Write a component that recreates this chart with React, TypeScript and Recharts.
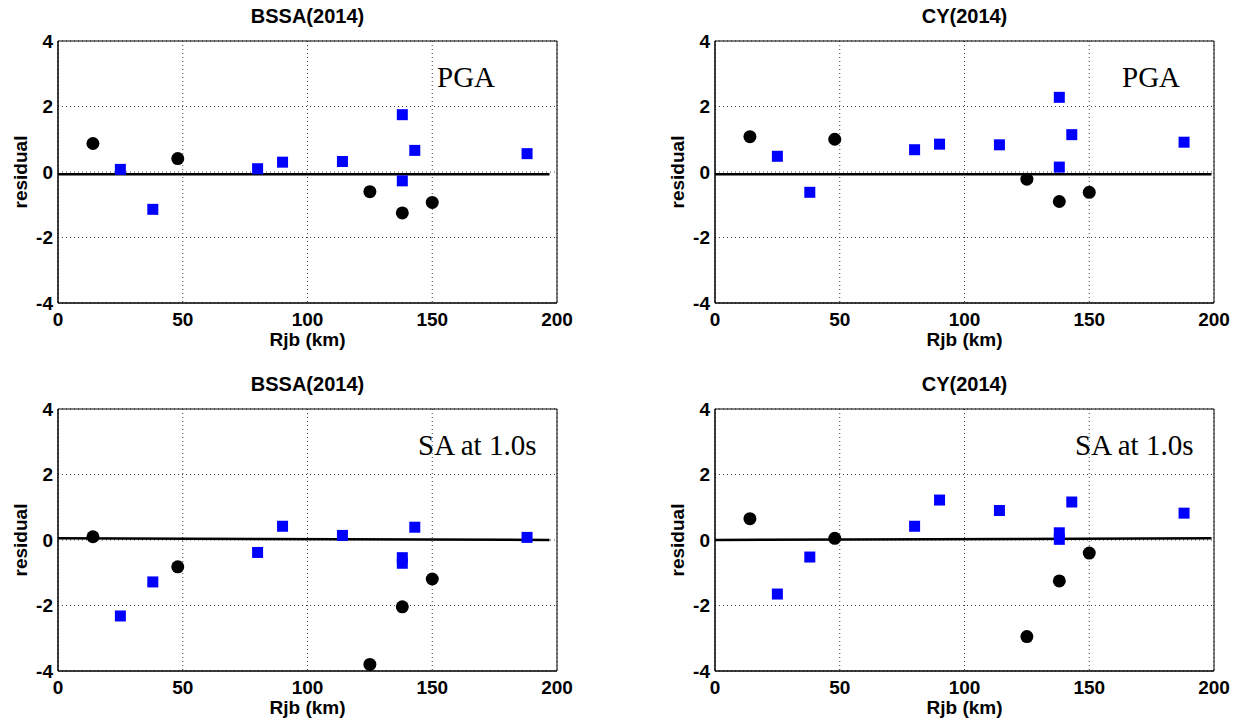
import type { FC } from "react";
import {
  ScatterChart,
  Scatter,
  XAxis,
  YAxis,
  CartesianGrid,
  ReferenceArea,
  ReferenceLine,
} from "recharts";

// distances (km) shared by every panel
const eventRjb = [14, 48, 125, 138, 150];
const stationRjb = [25, 38, 80, 90, 114, 138, 138, 143, 188];

// residuals
const bssaPgaBlack = [0.87, 0.41, -0.6, -1.25, -0.93];
const bssaPgaBlue = [0.08, -1.14, 0.1, 0.3, 0.32, 1.75, -0.27, 0.66, 0.56];
const cyPgaBlack = [1.08, 1.0, -0.22, -0.9, -0.62];
const cyPgaBlue = [0.48, -0.62, 0.68, 0.85, 0.83, 2.28, 0.15, 1.14, 0.91];
const bssaSaBlack = [0.1, -0.82, -3.8, -2.04, -1.19];
const bssaSaBlue = [-2.32, -1.28, -0.38, 0.42, 0.14, -0.54, -0.71, 0.39, 0.08];
const cySaBlack = [0.65, 0.05, -2.95, -1.25, -0.4];
const cySaBlue = [-1.65, -0.52, 0.42, 1.22, 0.9, 0.22, 0.02, 1.16, 0.82];

// mean residual line: [start x, end x], [start y, end y]
const bssaPgaMean = { x: [0, 197], y: [-0.07, -0.07] };
const cyPgaMean = { x: [0, 199], y: [-0.07, -0.07] };
const bssaSaMean = { x: [0, 197], y: [0.05, 0.0] };
const cySaMean = { x: [0, 199], y: [0.0, 0.05] };

const xTicks = [0, 50, 100, 150, 200];
const yTicks = [-4, -2, 0, 2, 4];

const sans = "'Liberation Sans', Arial, sans-serif";
const serif = "'Liberation Serif', 'Times New Roman', serif";

const toPoints = (xs: number[], ys: number[]) =>
  xs.map((x, i) => ({ x, y: ys[i] }));

const BlackDot = (p: any) => (
  <circle cx={p.cx} cy={p.cy} r={6.5} fill="#000" />
);
const BlueSquare = (p: any) => (
  <rect x={p.cx - 5.5} y={p.cy - 5.5} width={11} height={11} fill="#0000ff" />
);

interface PanelProps {
  title: string;
  note: string;
  noteLeft: number;
  black: number[];
  blue: number[];
  mean: { x: number[]; y: number[] };
  left: number;
  top: number;
}

const tickStyle = { fill: "#000", fontSize: 19, fontWeight: 700, fontFamily: sans };

const Panel: FC<PanelProps> = ({ title, note, noteLeft, black, blue, mean, left, top }) => {
  return (
    <div style={{ position: "absolute", left, top, width: 620, height: 358 }}>
      <ScatterChart
        width={620}
        height={358}
        margin={{ top: 41, right: 63, bottom: 5, left: 0 }}
      >
        <CartesianGrid stroke="#444" strokeDasharray="1 3" />
        <XAxis
          type="number"
          dataKey="x"
          domain={[0, 200]}
          ticks={xTicks}
          height={50}
          tickLine={false}
          tickSize={0}
          tickMargin={10}
          tick={tickStyle}
          axisLine={{ stroke: "#000" }}
          allowDataOverflow
        />
        <YAxis
          type="number"
          dataKey="y"
          domain={[-4, 4]}
          ticks={yTicks}
          width={58}
          tickLine={false}
          tickSize={0}
          tickMargin={5}
          tick={tickStyle}
          axisLine={{ stroke: "#000" }}
          allowDataOverflow
        />
        <ReferenceArea x1={0} x2={200} y1={-4} y2={4} fill="none" stroke="#000" />
        <ReferenceLine
          segment={[
            { x: mean.x[0], y: mean.y[0] },
            { x: mean.x[1], y: mean.y[1] },
          ]}
          stroke="#000"
          strokeWidth={2.5}
        />
        <Scatter data={toPoints(eventRjb, black)} shape={BlackDot} isAnimationActive={false} />
        <Scatter data={toPoints(stationRjb, blue)} shape={BlueSquare} isAnimationActive={false} />
      </ScatterChart>

      {/* title */}
      <div
        style={{
          position: "absolute", left: 58, top: 4, width: 499, textAlign: "center",
          font: `700 20px/24px ${sans}`, color: "#000",
        }}
      >
        {title}
      </div>
      {/* y label */}
      <div
        style={{
          position: "absolute", left: -29, top: 160, width: 100, height: 24, textAlign: "center",
          font: `700 19px/24px ${sans}`, transform: "rotate(-90deg)", color: "#000",
        }}
      >
        residual
      </div>
      {/* x label */}
      <div
        style={{
          position: "absolute", left: 58, top: 328, width: 499, textAlign: "center",
          font: `700 19px/24px ${sans}`, color: "#000",
        }}
      >
        Rjb (km)
      </div>
      {/* annotation */}
      <div
        style={{
          position: "absolute", left: noteLeft, top: 61, whiteSpace: "nowrap",
          font: `400 29px/32px ${serif}`, color: "#000",
        }}
      >
        {note}
      </div>
    </div>
  );
};

const App: FC = () => {
  return (
    <div
      style={{
        position: "absolute", left: 0, top: 0, width: 1246, height: 726,
        background: "#fff", overflow: "hidden",
      }}
    >
      <Panel title="BSSA(2014)" note="PGA" noteLeft={437} black={bssaPgaBlack} blue={bssaPgaBlue} mean={bssaPgaMean} left={0} top={0} />
      <Panel title="CY(2014)" note="PGA" noteLeft={465} black={cyPgaBlack} blue={cyPgaBlue} mean={cyPgaMean} left={657} top={0} />
      <Panel title="BSSA(2014)" note="SA at 1.0s" noteLeft={418} black={bssaSaBlack} blue={bssaSaBlue} mean={bssaSaMean} left={0} top={368} />
      <Panel title="CY(2014)" note="SA at 1.0s" noteLeft={418} black={cySaBlack} blue={cySaBlue} mean={cySaMean} left={657} top={368} />
    </div>
  );
};

export default App;
